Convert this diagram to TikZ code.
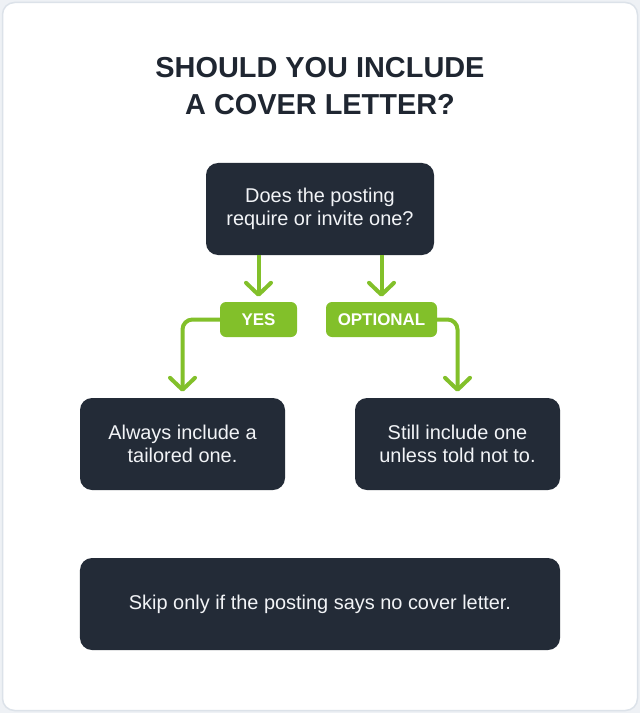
\documentclass[tikz,border=0pt]{standalone}
\usepackage{fontspec}
\setmainfont{Liberation Sans}
\usetikzlibrary{arrows.meta}
\definecolor{pagebg}{HTML}{EEF1F5}
\definecolor{cardline}{HTML}{DCE2E9}
\definecolor{darkbox}{HTML}{232B37}
\definecolor{leaf}{HTML}{82C02A}
\definecolor{titleink}{HTML}{1F2631}
\definecolor{boxtext}{HTML}{F2F4F7}
\tikzset{
  qbox/.style={draw=none, fill=darkbox, rounded corners=12bp, text=boxtext,
    align=center, inner sep=0pt, font=\fontsize{20}{23.5}\selectfont},
  pill/.style={fill=leaf, rounded corners=6bp, text=white, inner sep=0pt,
    minimum height=35bp, font=\bfseries\fontsize{17}{20}\selectfont},
  flow/.style={draw=leaf, line width=4bp, rounded corners=10bp,
    -{Straight Barb[length=12bp,width=25bp,line width=4bp,round]}}
}
\begin{document}
\begin{tikzpicture}[x=1bp,y=-1bp]
\useasboundingbox (0,0) rectangle (640,713);
\fill[pagebg] (0,0) rectangle (640,713);
\draw[cardline, fill=white, line width=1.5bp, rounded corners=12bp] (2.5,2.5) rectangle (637.5,710.5);
\node[text=titleink, align=center, font=\bfseries\fontsize{29}{38}\selectfont] (title) at (320,86) {SHOULD YOU INCLUDE\\A COVER LETTER?};
\node[qbox, minimum width=228bp, minimum height=92bp] (q) at (320,209) {Does the posting\\require or invite one?};
\node[pill, minimum width=77bp] (yes) at (258.5,319.5) {YES};
\node[pill, minimum width=111bp] (opt) at (381.5,319.5) {OPTIONAL};
\node[qbox, minimum width=205bp, minimum height=92bp] (l) at (182.5,444) {Always include a\\tailored one.};
\node[qbox, minimum width=205bp, minimum height=92bp] (r) at (457.5,444) {Still include one\\unless told not to.};
\node[qbox, minimum width=480bp, minimum height=92bp] (b) at (320,604) {Skip only if the posting says no cover letter.};
\draw[flow, shorten >=5bp] (q.south -| yes) -- (yes.north);
\draw[flow, shorten >=5bp] (q.south -| opt) -- (opt.north);
\draw[flow, shorten >=6bp] (yes.west) -| (l.north);
\draw[flow, shorten >=6bp] (opt.east) -| (r.north);
\end{tikzpicture}
\end{document}
